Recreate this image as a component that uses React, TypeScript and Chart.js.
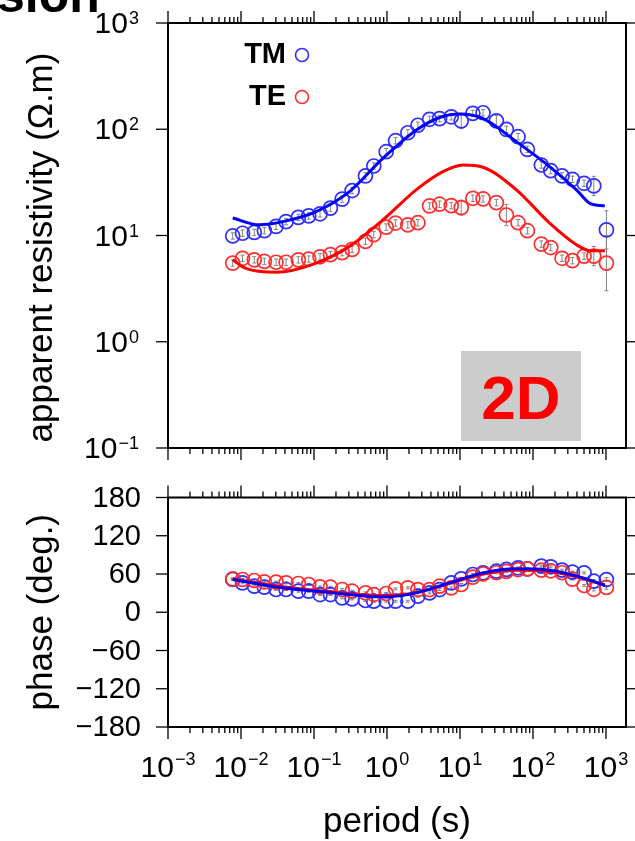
import React, { useEffect, useRef } from "react";
import { Chart, registerables } from "chart.js";

Chart.register(...registerables);

const FONT = '"Liberation Sans", Arial, Helvetica, sans-serif';

// ---- data ----
const periods = [0.0077, 0.0105, 0.0152, 0.0209, 0.0302, 0.0414, 0.0611, 0.0847, 0.121, 0.168, 0.243, 0.333, 0.507, 0.659, 0.975, 1.31, 1.93, 2.65, 3.83, 5.25, 7.59, 10.4, 15.0, 20.7, 31.5, 43.2, 62.4, 83.8, 130, 175, 250, 347, 501, 681, 1014];
const rhoTM = [9.9, 10.5, 10.7, 11.1, 12.2, 13.5, 14.8, 15.3, 16.0, 18.1, 22.0, 26.5, 36.4, 45.1, 61.5, 78.0, 92.7, 109, 124, 126, 131, 120, 141, 143, 120, 99.8, 85.1, 64.7, 46.1, 40.8, 36.4, 33.8, 31.0, 29.3, 11.3];
const rhoTE = [5.5, 6.1, 5.9, 5.7, 5.6, 5.6, 5.9, 6.0, 6.3, 6.6, 6.9, 7.4, 8.8, 10.2, 12.0, 13.1, 12.6, 13.2, 19.0, 19.7, 19.1, 18.3, 22.4, 22.1, 20.4, 15.6, 13.2, 11.1, 8.3, 7.7, 6.1, 5.8, 6.4, 6.4, 5.5];
// error half-widths in log10 units
const rhoTMErr = [0.03, 0.03, 0.03, 0.03, 0.03, 0.03, 0.03, 0.03, 0.03, 0.03, 0.03, 0.03, 0.03, 0.03, 0.03, 0.03, 0.03, 0.03, 0.03, 0.03, 0.03, 0.07, 0.03, 0.03, 0.05, 0.03, 0.03, 0.03, 0.03, 0.03, 0.03, 0.03, 0.03, 0.09, 0.18];
const rhoTEErr = [0.03, 0.03, 0.03, 0.03, 0.03, 0.03, 0.03, 0.03, 0.03, 0.03, 0.03, 0.03, 0.03, 0.03, 0.03, 0.03, 0.03, 0.03, 0.03, 0.03, 0.03, 0.07, 0.03, 0.03, 0.03, 0.1, 0.03, 0.03, 0.03, 0.03, 0.03, 0.03, 0.03, 0.09, 0.26];

const phaseTM = [51.4, 46.1, 40.9, 39.3, 35.7, 35.7, 33.0, 33.0, 27.8, 27.8, 22.6, 21.0, 18.4, 17.3, 17.3, 17.3, 17.3, 25.2, 30.4, 35.6, 46.1, 52.4, 59.2, 61.8, 64.4, 67.1, 69.7, 68.0, 72.3, 71.3, 66.0, 62.9, 61.8, 48.7, 51.3];
const phaseTE = [52.4, 51.4, 49.8, 47.7, 47.2, 46.1, 45.1, 43.5, 39.8, 39.3, 35.7, 33.0, 30.4, 27.8, 29.4, 36.7, 38.3, 35.6, 35.6, 40.9, 38.3, 43.5, 55.0, 60.0, 62.0, 64.0, 67.0, 68.0, 66.0, 65.0, 62.0, 52.0, 42.0, 36.0, 39.0];
const phaseTMErr = [1.5, 1.5, 1.5, 1.5, 1.5, 1.5, 1.5, 1.5, 1.5, 1.5, 1.5, 1.5, 1.5, 1.5, 1.5, 1.5, 1.5, 1.5, 1.5, 1.5, 1.5, 1.5, 1.5, 1.5, 1.5, 1.5, 1.5, 1.5, 1.5, 1.5, 1.5, 1.5, 1.5, 2.5, 3];
const phaseTEErr = [1.5, 1.5, 1.5, 1.5, 1.5, 1.5, 1.5, 1.5, 1.5, 1.5, 1.5, 1.5, 1.5, 1.5, 1.5, 1.5, 1.5, 1.5, 1.5, 1.5, 1.5, 1.5, 1.5, 1.5, 1.5, 1.5, 1.5, 1.5, 1.5, 1.5, 1.5, 1.5, 1.5, 2.5, 3];

// model responses
const tmModelPeriods = [0.0077, 0.0178, 0.0372, 0.107, 0.306, 0.877, 2.51, 5.25, 9.9, 20.7, 59.2, 169, 394, 600, 964];
const tmModelRho = [14.6, 12.6, 13.5, 16.8, 25.9, 53.2, 98, 129, 139, 126, 76.4, 44.5, 26.9, 20.1, 19.0];
const teModelPeriods = [0.0077, 0.0117, 0.0302, 0.107, 0.306, 0.877, 2.51, 5.83, 11.0, 20.7, 59.2, 169, 394, 600, 964];
const teModelRho = [5.9, 4.9, 4.5, 5.5, 7.9, 14.0, 26.9, 39.9, 46.1, 43.9, 26.9, 13.1, 8.2, 7.2, 7.2];
const phaseModelPeriods = [0.0077, 0.0372, 0.181, 0.518, 0.975, 2.51, 7.19, 20.7, 59.2, 169, 485, 964];
const tmPhaseModel = [51.3, 38.3, 30.4, 25.2, 24.1, 30.4, 46.1, 61.8, 68.1, 66.0, 54.0, 41.9];
const tePhaseModel = [52.5, 40.0, 32.0, 27.0, 26.0, 31.0, 45.0, 60.0, 66.0, 64.0, 53.0, 43.0];

// axis ticks / labels
const periodMin = 0.001;
const periodMax = 1880;
const xTickValues = [0.001, 0.01, 0.1, 1, 10, 100, 1000];
const xTickExps = ["\u22123", "\u22122", "\u22121", "0", "1", "2", "3"];
const rhoTickValues = [0.1, 1, 10, 100, 1000];
const rhoTickExps = ["\u22121", "0", "1", "2", "3"];
const phaseTickValues = [180, 120, 60, 0, -60, -120, -180];
const phaseTickLabels = ["180", "120", "60", "0", "\u221260", "\u2212120", "\u2212180"];
const minorMultipliers = [2, 3, 4, 5, 6, 7, 8, 9];

const BLUE = "#0000ff";
const RED = "#ff0000";
const BLUE_PT = "#2f2fff";
const RED_PT = "#ff2f2f";

function pts(xs: number[], ys: number[]) {
  return xs.map((x, i) => ({ x, y: ys[i] }));
}

function line(ctx: CanvasRenderingContext2D, x1: number, y1: number, x2: number, y2: number) {
  ctx.beginPath();
  ctx.moveTo(x1, y1);
  ctx.lineTo(x2, y2);
  ctx.stroke();
}

function drawPow(ctx: CanvasRenderingContext2D, exp: string, x: number, y: number, align: "right" | "center", raise: number) {
  ctx.font = `30px ${FONT}`;
  const wb = ctx.measureText("10").width;
  ctx.font = `18px ${FONT}`;
  const we = ctx.measureText(exp).width;
  const total = wb + 1 + we;
  const left = align === "right" ? x - total : x - total / 2;
  ctx.fillStyle = "#000";
  ctx.textAlign = "left";
  ctx.textBaseline = "alphabetic";
  ctx.font = `30px ${FONT}`;
  ctx.fillText("10", left, y);
  ctx.font = `18px ${FONT}`;
  ctx.fillText(exp, left + wb + 1, y - raise);
}

function drawXTicks(ctx: CanvasRenderingContext2D, xs: any, yEdge: number, dir: number) {
  ctx.strokeStyle = "#000";
  ctx.lineWidth = 1.3;
  xTickValues.forEach((d) => {
    const px = xs.getPixelForValue(d);
    line(ctx, px, yEdge, px, yEdge + dir * 12);
    minorMultipliers.forEach((m) => {
      const v = m * d;
      if (v <= periodMax) {
        const p = xs.getPixelForValue(v);
        line(ctx, p, yEdge, p, yEdge + dir * 6);
      }
    });
  });
}

function drawFrame(ctx: CanvasRenderingContext2D, a: any) {
  ctx.strokeStyle = "#000";
  ctx.lineWidth = 2;
  ctx.strokeRect(a.left, a.top, a.right - a.left, a.bottom - a.top);
}

const errorBarPlugin = {
  id: "errbars",
  beforeDatasetsDraw(chart: any) {
    const ctx = chart.ctx as CanvasRenderingContext2D;
    const xs = chart.scales.x;
    const ys = chart.scales.y;
    ctx.save();
    ctx.strokeStyle = "#858585";
    ctx.lineWidth = 1;
    chart.data.datasets.forEach((ds: any) => {
      if (!ds.errs) return;
      ds.data.forEach((p: any, i: number) => {
        const e = ds.errs[i];
        let lo: number, hi: number;
        if (ds.errLog) {
          lo = p.y / Math.pow(10, e);
          hi = p.y * Math.pow(10, e);
        } else {
          lo = p.y - e;
          hi = p.y + e;
        }
        const px = xs.getPixelForValue(p.x);
        const y1 = ys.getPixelForValue(lo);
        const y2 = ys.getPixelForValue(hi);
        line(ctx, px, y1, px, y2);
        line(ctx, px - 2, y1, px + 2, y1);
        line(ctx, px - 2, y2, px + 2, y2);
      });
    });
    ctx.restore();
  },
};

const rhoDecorPlugin = {
  id: "rhoDecor",
  afterDraw(chart: any) {
    const ctx = chart.ctx as CanvasRenderingContext2D;
    const a = chart.chartArea;
    const xs = chart.scales.x;
    const ys = chart.scales.y;
    ctx.save();
    // cut-off heading above
    ctx.fillStyle = "#000";
    ctx.font = `bold 50px ${FONT}`;
    ctx.textAlign = "left";
    ctx.textBaseline = "alphabetic";
    ctx.fillText("sion", -3, 12);

    drawFrame(ctx, a);
    drawXTicks(ctx, xs, a.top, -1);
    drawXTicks(ctx, xs, a.bottom, 1);
    ctx.lineWidth = 1.3;
    rhoTickValues.forEach((v, i) => {
      const py = ys.getPixelForValue(v);
      line(ctx, a.left, py, a.left - 12, py);
      line(ctx, a.right, py, a.right + 12, py);
      drawPow(ctx, rhoTickExps[i], 139, py + 10, "right", 9);
    });

    // y title
    ctx.save();
    ctx.translate(42, (a.top + a.bottom) / 2 + 12);
    ctx.rotate(-Math.PI / 2);
    ctx.font = `35px ${FONT}`;
    ctx.fillStyle = "#000";
    ctx.textAlign = "center";
    ctx.textBaseline = "middle";
    ctx.fillText("apparent resistivity (\u03a9.m)", 0, 0);
    ctx.restore();

    // legend
    ctx.font = `bold 29px ${FONT}`;
    ctx.fillStyle = "#000";
    ctx.textAlign = "right";
    ctx.textBaseline = "middle";
    ctx.fillText("TM", 286, 55);
    ctx.fillText("TE", 286, 97);
    ctx.lineWidth = 1.6;
    ctx.strokeStyle = BLUE_PT;
    ctx.beginPath();
    ctx.arc(302, 55, 6.5, 0, Math.PI * 2);
    ctx.stroke();
    ctx.strokeStyle = RED_PT;
    ctx.beginPath();
    ctx.arc(302, 97, 6.5, 0, Math.PI * 2);
    ctx.stroke();

    // 2D box
    ctx.fillStyle = "#cccccc";
    ctx.fillRect(461, 351, 120, 90);
    ctx.fillStyle = RED;
    ctx.font = `bold 62px ${FONT}`;
    ctx.textAlign = "center";
    ctx.textBaseline = "alphabetic";
    ctx.fillText("2D", 521, 419);
    ctx.restore();
  },
};

const phaseDecorPlugin = {
  id: "phaseDecor",
  afterDraw(chart: any) {
    const ctx = chart.ctx as CanvasRenderingContext2D;
    const a = chart.chartArea;
    const xs = chart.scales.x;
    const ys = chart.scales.y;
    ctx.save();
    drawFrame(ctx, a);
    drawXTicks(ctx, xs, a.top, -1);
    drawXTicks(ctx, xs, a.bottom, 1);
    ctx.lineWidth = 1.3;
    phaseTickValues.forEach((v, i) => {
      const py = ys.getPixelForValue(v);
      line(ctx, a.left, py, a.left - 12, py);
      line(ctx, a.right, py, a.right + 12, py);
      ctx.font = `29px ${FONT}`;
      ctx.fillStyle = "#000";
      ctx.textAlign = "right";
      ctx.textBaseline = "middle";
      ctx.fillText(phaseTickLabels[i], 141, py + 1);
    });
    xTickValues.forEach((v, i) => {
      const px = xs.getPixelForValue(v);
      drawPow(ctx, xTickExps[i], px, a.bottom + 50, "center", 12);
    });
    // y title
    ctx.save();
    ctx.translate(42, (a.top + a.bottom) / 2);
    ctx.rotate(-Math.PI / 2);
    ctx.font = `35px ${FONT}`;
    ctx.fillStyle = "#000";
    ctx.textAlign = "center";
    ctx.textBaseline = "middle";
    ctx.fillText("phase (deg.)", 0, 0);
    ctx.restore();
    // x title
    ctx.font = `35px ${FONT}`;
    ctx.fillStyle = "#000";
    ctx.textAlign = "center";
    ctx.textBaseline = "alphabetic";
    ctx.fillText("period (s)", 397, 832 - 472);
    ctx.restore();
  },
};

function circleSet(data: any[], color: string, errs: number[], errLog: boolean, order: number) {
  return {
    data,
    showLine: false,
    pointRadius: 7,
    pointHoverRadius: 7,
    pointBorderWidth: 1.7,
    pointBorderColor: color,
    pointBackgroundColor: "rgba(0,0,0,0)",
    borderColor: color,
    errs,
    errLog,
    order,
  };
}

function lineSet(data: any[], color: string, order: number) {
  return {
    data,
    showLine: true,
    borderColor: color,
    borderWidth: 3,
    pointRadius: 0,
    pointHoverRadius: 0,
    cubicInterpolationMode: "monotone",
    fill: false,
    order,
  };
}

function baseOptions(padding: any, yCfg: any) {
  return {
    responsive: false,
    animation: false,
    events: [],
    layout: { padding },
    scales: {
      x: { type: "logarithmic", min: periodMin, max: periodMax, display: false },
      y: { ...yCfg, display: false },
    },
    plugins: { legend: { display: false }, tooltip: { enabled: false }, title: { display: false } },
  };
}

export default function App() {
  const topRef = useRef<HTMLCanvasElement>(null);
  const botRef = useRef<HTMLCanvasElement>(null);

  useEffect(() => {
    const top = new Chart(topRef.current as HTMLCanvasElement, {
      type: "scatter",
      data: {
        datasets: [
          lineSet(pts(tmModelPeriods, tmModelRho), BLUE, 0),
          lineSet(pts(teModelPeriods, teModelRho), RED, 1),
          circleSet(pts(periods, rhoTM), BLUE_PT, rhoTMErr, true, 3),
          circleSet(pts(periods, rhoTE), RED_PT, rhoTEErr, true, 2),
        ] as any,
      },
      options: baseOptions({ left: 168, right: 9, top: 23, bottom: 24 }, { type: "logarithmic", min: 0.1, max: 1000 }) as any,
      plugins: [errorBarPlugin, rhoDecorPlugin],
    });
    const bot = new Chart(botRef.current as HTMLCanvasElement, {
      type: "scatter",
      data: {
        datasets: [
          lineSet(pts(phaseModelPeriods, tmPhaseModel), BLUE, 0),
          lineSet(pts(phaseModelPeriods, tePhaseModel), RED, 1),
          circleSet(pts(periods, phaseTM), BLUE_PT, phaseTMErr, false, 3),
          circleSet(pts(periods, phaseTE), RED_PT, phaseTEErr, false, 2),
        ] as any,
      },
      options: baseOptions({ left: 168, right: 9, top: 25.5, bottom: 114 }, { type: "linear", min: -180, max: 180 }) as any,
      plugins: [errorBarPlugin, phaseDecorPlugin],
    });
    return () => {
      top.destroy();
      bot.destroy();
    };
  }, []);

  return (
    <div style={{ position: "fixed", left: 0, top: 0, width: 635, height: 841, background: "#fff", overflow: "hidden" }}>
      <canvas ref={topRef} width={635} height={472} style={{ position: "absolute", left: 0, top: 0, width: 635, height: 472 }} />
      <canvas ref={botRef} width={635} height={369} style={{ position: "absolute", left: 0, top: 472, width: 635, height: 369 }} />
    </div>
  );
}
